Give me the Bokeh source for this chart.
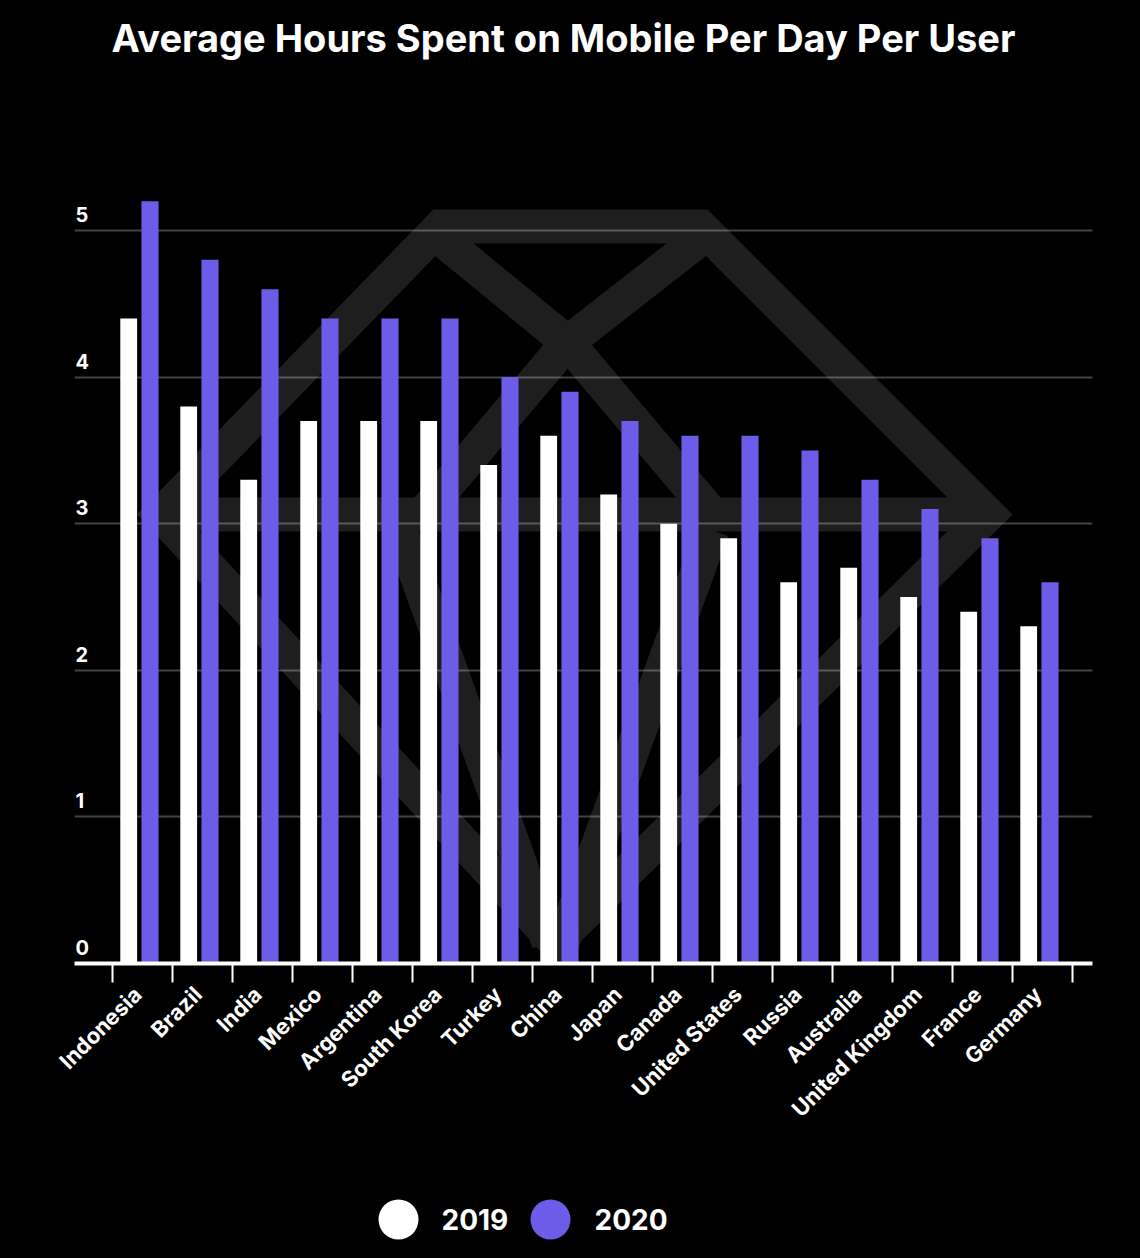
from bokeh.plotting import figure
from bokeh.models import Range1d, FixedTicker, Label, ColumnDataSource, Grid
from bokeh.layouts import column
from bokeh.embed import file_html
from bokeh.resources import INLINE
from bokeh.core.properties import value
from math import pi

# ---------------- data ----------------
countries = ["Indonesia", "Brazil", "India", "Mexico", "Argentina", "South Korea",
             "Turkey", "China", "Japan", "Canada", "United States", "Russia",
             "Australia", "United Kingdom", "France", "Germany"]
hours_2019 = [4.4, 3.8, 3.3, 3.7, 3.7, 3.7, 3.4, 3.6, 3.2, 3.0, 2.9, 2.6, 2.7, 2.5, 2.4, 2.3]
hours_2020 = [5.2, 4.8, 4.6, 4.4, 4.4, 4.4, 4.0, 3.9, 3.7, 3.6, 3.6, 3.5, 3.3, 3.1, 2.9, 2.6]
series_names = ["2019", "2020"]
y_ticks = [0, 1, 2, 3, 4, 5]
y_tick_labels = ["0", "1", "2", "3", "4", "5"]
title_text = "Average Hours Spent on Mobile Per Day Per User"

# ---------------- style / layout ----------------
FONT = "Inter"
WHITE = "#ffffff"
PURPLE = "#6c5ce7"
BG = "#000000"
LOGO = "#1e1e1e"

PX_PER_UNIT_Y = 146.6
FRAME_H = 963
FRAME_L, FRAME_R = 74, 1092
FIRST_TICK_PX = 112
CAT_PX = 60

x_start = -(FIRST_TICK_PX - FRAME_L) / CAT_PX
x_end = (FRAME_R - FIRST_TICK_PX) / CAT_PX
y_end = FRAME_H / PX_PER_UNIT_Y


def px_to_x(px):
    return (px - FIRST_TICK_PX) / CAT_PX


def py_to_y(py):
    return (FRAME_H - py) / PX_PER_UNIT_Y


# decorative background watermark (gem outline), in page pixels
logo_paths = [
    [(570, 226), (700, 226), (988, 514), (555, 942), (160, 514), (440, 226), (570, 226)],
    [(160, 514), (988, 514)],
    [(445, 242), (567, 342), (712, 514)],
    [(695, 242), (567, 342), (422, 514)],
    [(400, 530), (548, 942)],
    [(712, 530), (562, 942)],
]

n = len(countries)
idx = list(range(n))
src = ColumnDataSource(dict(
    x19=[i + 0.27 for i in idx],
    x20=[i + 0.625 for i in idx],
    h19=hours_2019,
    h20=hours_2020,
))

p = figure(width=1140, height=1160,
           x_range=Range1d(x_start, x_end), y_range=Range1d(0, y_end),
           output_backend="svg", toolbar_location=None,
           y_axis_location=None,
           min_border_left=FRAME_L, min_border_right=1140 - FRAME_R,
           min_border_top=0, min_border_bottom=1160 - FRAME_H,
           background_fill_color=BG, border_fill_color=BG,
           outline_line_color=None)
p.styles = {"background-color": BG}

p.xgrid.grid_line_color = None
p.ygrid.grid_line_color = None

# watermark (lowest level, beneath grid and bars)
p.multi_line(xs=[[px_to_x(a) for a, b in path] for path in logo_paths],
             ys=[[py_to_y(b) for a, b in path] for path in logo_paths],
             line_color=LOGO, line_width=34,
             line_join="miter", line_cap="butt", level="image")

p.add_layout(Grid(dimension=1, ticker=FixedTicker(ticks=y_ticks),
                  grid_line_color=WHITE, grid_line_alpha=0.26, grid_line_width=2,
                  level="underlay"))

p.vbar(x="x19", top="h19", bottom=0, width=0.28, source=src,
       fill_color=WHITE, line_color=None)
p.vbar(x="x20", top="h20", bottom=0, width=0.285, source=src,
       fill_color=PURPLE, line_color=None)

label_pos = [round(i + 0.42, 2) for i in idx]
ax = p.xaxis[0]
ax.ticker = FixedTicker(ticks=label_pos, minor_ticks=list(range(n + 1)))
ax.major_label_overrides = {t: c for t, c in zip(label_pos, countries)}
ax.major_label_orientation = pi / 4
ax.major_tick_line_color = None
ax.major_tick_out = 19
ax.major_tick_in = 0
ax.minor_tick_line_color = WHITE
ax.minor_tick_line_width = 2
ax.minor_tick_out = 19
ax.minor_tick_in = 0
ax.axis_line_color = WHITE
ax.axis_line_width = 4
ax.major_label_standoff = 8
ax.major_label_text_color = WHITE
ax.major_label_text_font = FONT
ax.major_label_text_font_style = "bold"
ax.major_label_text_font_size = "22px"

p.text(x=[x_start] * len(y_ticks), y=y_ticks, text=y_tick_labels,
       text_color=WHITE, text_font=value(FONT), text_font_style="bold",
       text_font_size="20px", text_align="left", text_baseline="middle",
       x_offset=1, y_offset=-16)

p.add_layout(Label(x=px_to_x(563), y=py_to_y(37), text=title_text,
                   text_align="center", text_baseline="middle",
                   text_color=WHITE, text_font=FONT, text_font_style="bold",
                   text_font_size="38px"))

# ---------------- legend ----------------
q = figure(width=1140, height=98, x_range=Range1d(FRAME_L, FRAME_R), y_range=Range1d(0, 98),
           output_backend="svg", toolbar_location=None,
           x_axis_location=None, y_axis_location=None,
           min_border_left=FRAME_L, min_border_right=1140 - FRAME_R,
           min_border_top=0, min_border_bottom=0,
           background_fill_color=BG, border_fill_color=BG,
           outline_line_color=None)
q.styles = {"background-color": BG}
q.xgrid.grid_line_color = None
q.ygrid.grid_line_color = None
q.scatter(x=[398, 550], y=[39, 39], size=40, marker="circle",
          fill_color=[WHITE, PURPLE], line_color=None)
q.text(x=[441, 594], y=[39, 39], text=series_names, text_color=WHITE,
       text_font=value(FONT), text_font_style="bold", text_font_size="28px",
       text_align="left", text_baseline="middle")

layout = column(p, q, spacing=0)
layout.styles = {"background-color": BG}
html = file_html(layout, INLINE)
html = html.replace("<body>", '<body style="margin:0;background:#000000;">', 1)
with open("out.html", "w") as f:
    f.write(html)
